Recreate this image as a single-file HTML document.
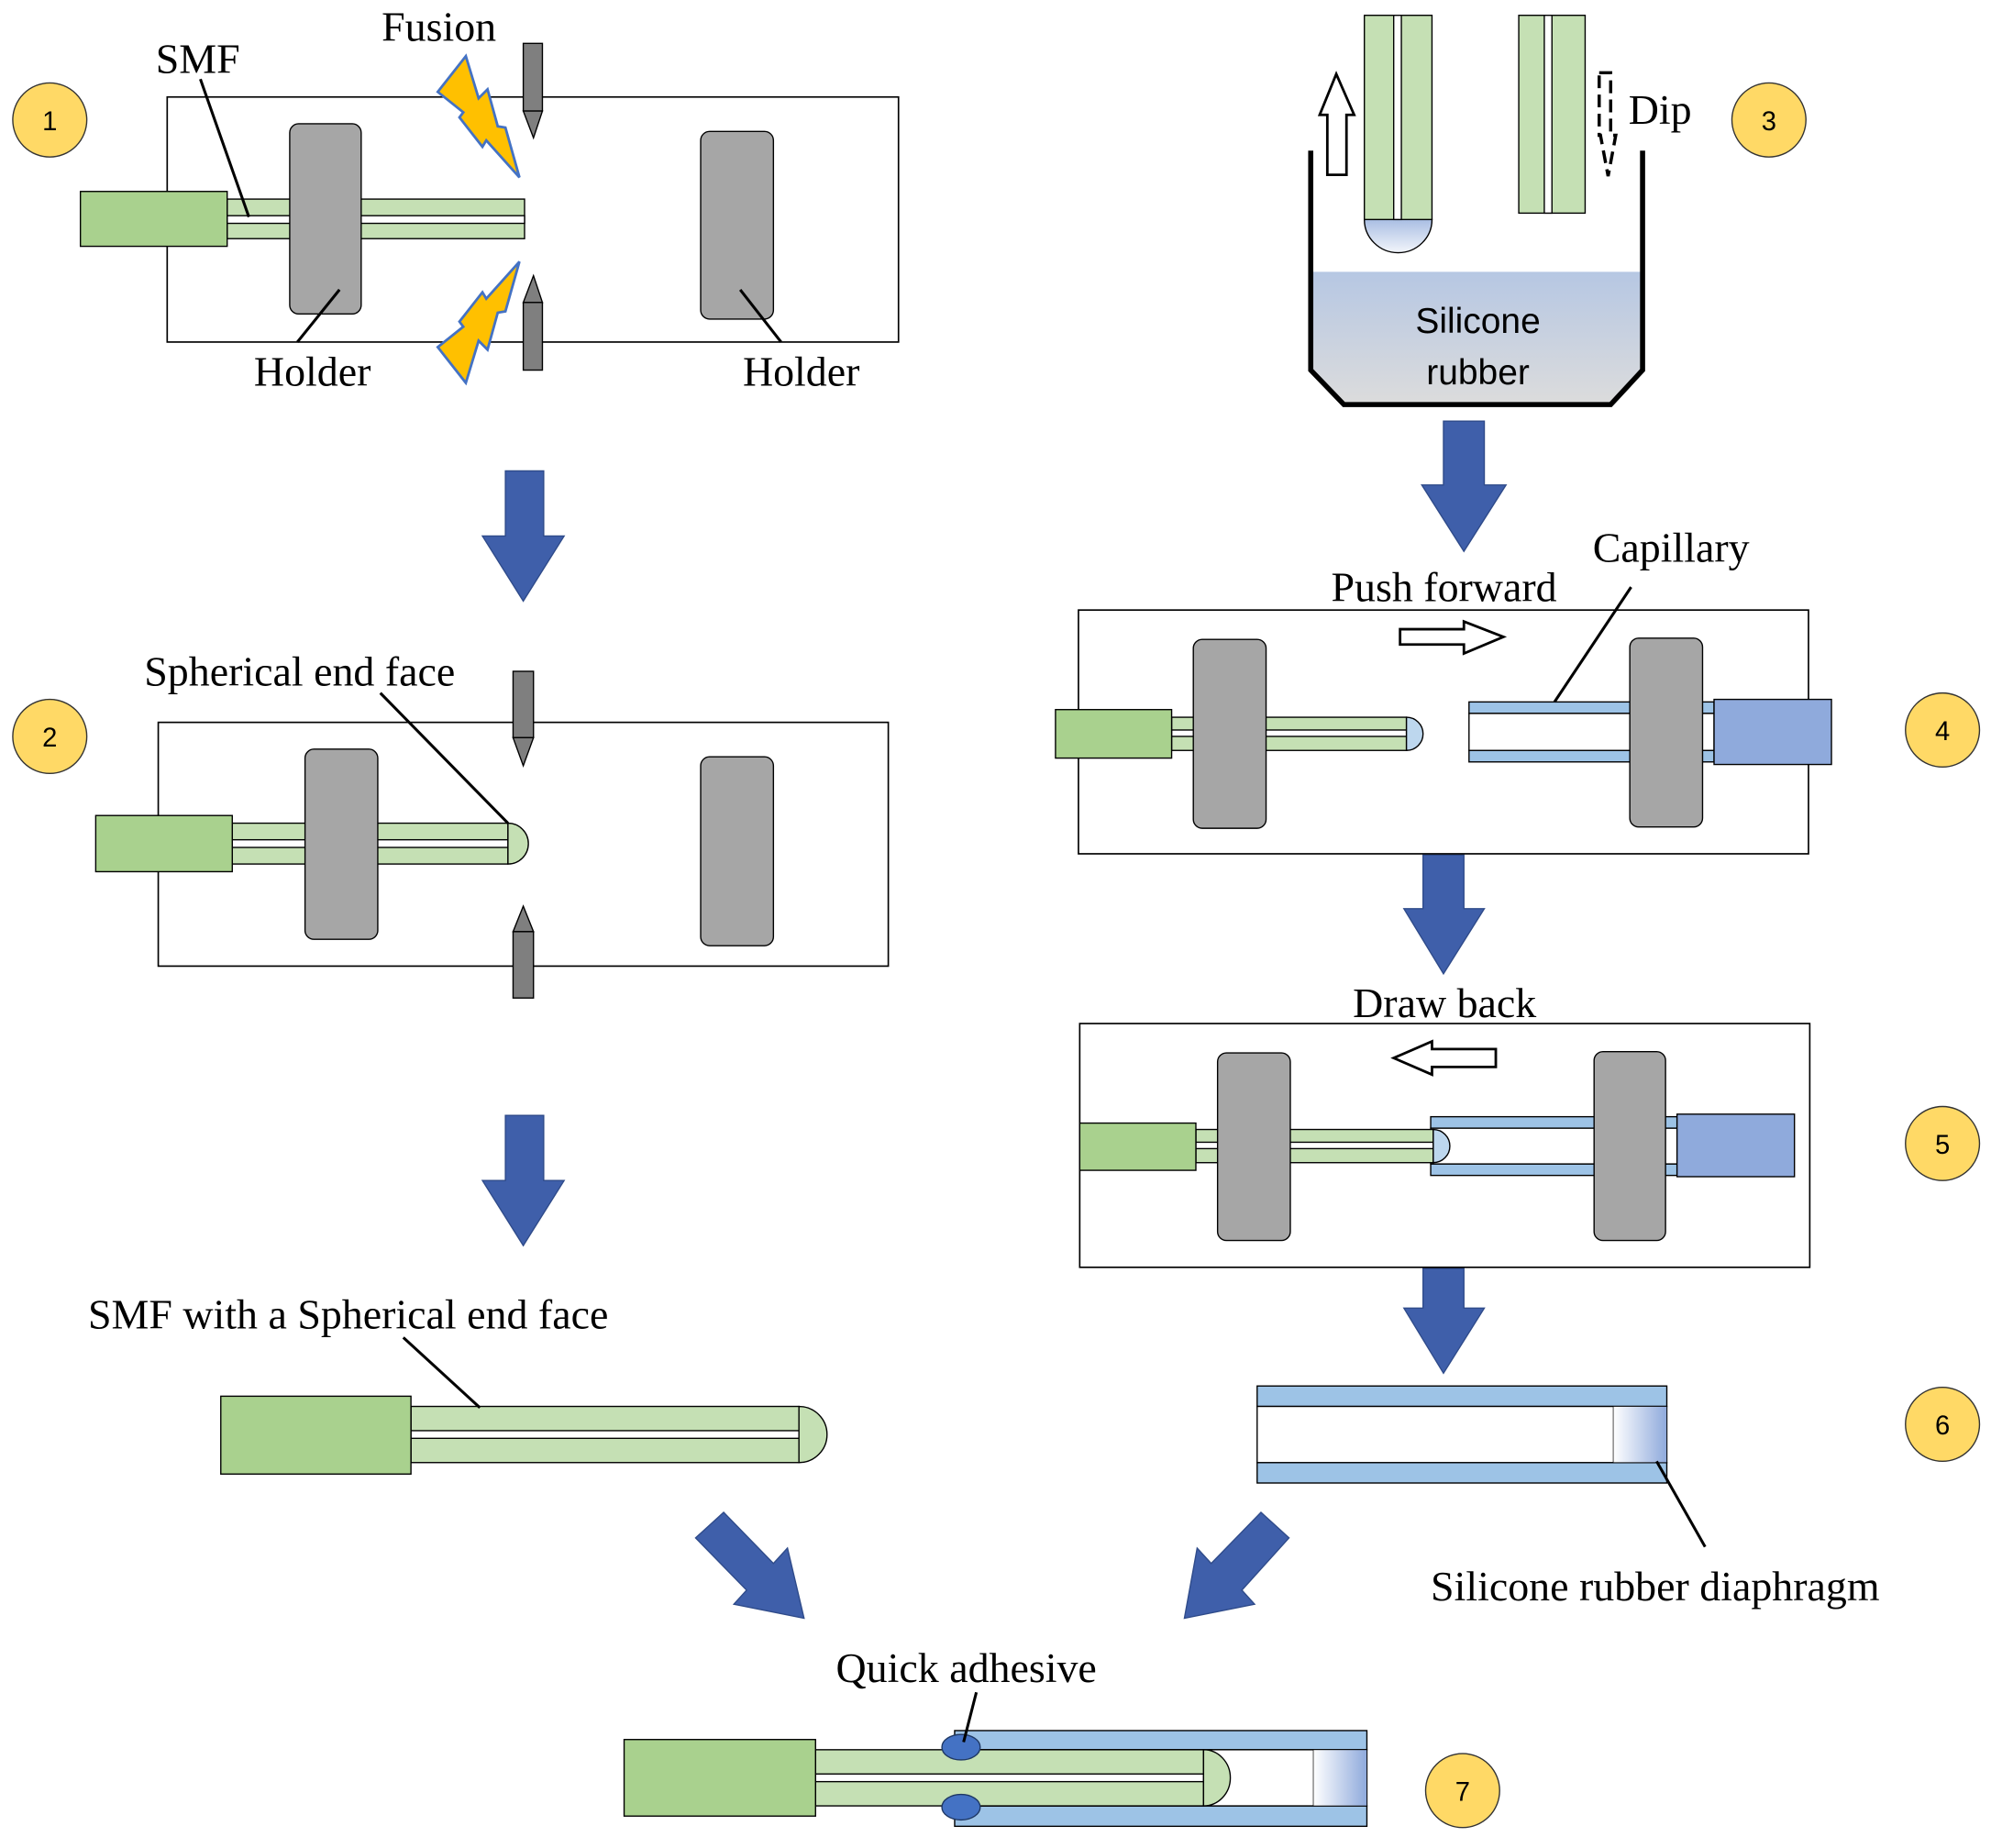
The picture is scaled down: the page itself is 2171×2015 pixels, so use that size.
<!DOCTYPE html>
<html><head><meta charset="utf-8"><style>html,body{margin:0;padding:0;background:#fff}svg{display:block}</style></head><body>
<svg width="2171" height="2015" viewBox="0 0 1560 1448" preserveAspectRatio="none" xmlns="http://www.w3.org/2000/svg">
<defs>
<linearGradient id="liq" x1="0" y1="0" x2="0" y2="1"><stop offset="0" stop-color="#B6C7E3"/><stop offset="1" stop-color="#DCDCDC"/></linearGradient>
<linearGradient id="drop" x1="0" y1="0" x2="0" y2="1"><stop offset="0" stop-color="#A9BEE3"/><stop offset="1" stop-color="#F2F5FB"/></linearGradient>
<linearGradient id="dia" x1="0" y1="0" x2="1" y2="0"><stop offset="0" stop-color="#FFFFFF"/><stop offset="1" stop-color="#8FAADC"/></linearGradient>
</defs>
<g font-family="Liberation Serif, serif" font-size="33" fill="#000">
<g stroke="#333" stroke-width="1" fill="#FFD966">
<ellipse cx="39" cy="94" rx="29" ry="29"/><ellipse cx="39" cy="577" rx="29" ry="29"/>
<ellipse cx="1386" cy="94" rx="29" ry="29"/><ellipse cx="1522" cy="572" rx="29" ry="29"/>
<ellipse cx="1522" cy="896" rx="29" ry="29"/><ellipse cx="1522" cy="1116" rx="29" ry="29"/>
<ellipse cx="1146" cy="1403" rx="29" ry="29"/></g>
<g font-family="Liberation Sans, sans-serif" font-size="21" text-anchor="middle">
<text x="39" y="102">1</text><text x="39" y="585">2</text><text x="1386" y="102">3</text><text x="1522" y="580">4</text><text x="1522" y="904">5</text><text x="1522" y="1124">6</text><text x="1146" y="1411">7</text></g>

<!-- Panel 1 -->
<rect x="131" y="76" width="573" height="192" fill="none" stroke="#000" stroke-width="1.2"/>
<rect x="178" y="156" width="233" height="31" fill="#C5E0B4" stroke="#000" stroke-width="1"/>
<rect x="178" y="169" width="233" height="6" fill="#fff" stroke="#000" stroke-width="1"/>
<rect x="63" y="150" width="115" height="43" fill="#A9D18E" stroke="#000" stroke-width="1"/>
<rect x="227" y="97" width="56" height="149" rx="7" fill="#A6A6A6" stroke="#000" stroke-width="1"/>
<rect x="549" y="103" width="57" height="147" rx="7" fill="#A6A6A6" stroke="#000" stroke-width="1"/>
<rect x="410" y="34" width="15" height="53" fill="#7F7F7F" stroke="#000" stroke-width="1"/>
<polygon points="410,87 425,87 418,108" fill="#7F7F7F" stroke="#000" stroke-width="1"/>
<polygon points="418,216 425,237 410,237" fill="#7F7F7F" stroke="#000" stroke-width="1"/>
<rect x="410" y="237" width="15" height="53" fill="#7F7F7F" stroke="#000" stroke-width="1"/>
<polygon points="365,44 343,72 363,88 360,92 378,115 381,110 407,139 396,100 390,99 382,70 375,77" fill="#FFC000" stroke="#4472C4" stroke-width="2"/>
<polygon points="365,300 343,272 363,256 360,252 378,229 381,234 407,205 396,244 390,245 382,274 375,267" fill="#FFC000" stroke="#4472C4" stroke-width="2"/>
<g stroke="#000" stroke-width="2.2"><line x1="157" y1="62" x2="195" y2="170"/><line x1="233" y1="268" x2="266" y2="227"/><line x1="612" y1="268" x2="580" y2="227"/></g>
<text x="299" y="32">Fusion</text><text x="122" y="57">SMF</text><text x="199" y="302">Holder</text><text x="582" y="302">Holder</text>

<!-- Panel 2 -->
<rect x="124" y="566" width="572" height="191" fill="none" stroke="#000" stroke-width="1.2"/>
<rect x="182" y="645" width="216" height="32" fill="#C5E0B4" stroke="#000" stroke-width="1"/>
<rect x="182" y="658" width="216" height="6" fill="#fff" stroke="#000" stroke-width="1"/>
<path d="M398,645 A16,16 0 0 1 398,677 Z" fill="#C5E0B4" stroke="#000" stroke-width="1"/>
<rect x="75" y="639" width="107" height="44" fill="#A9D18E" stroke="#000" stroke-width="1"/>
<rect x="239" y="587" width="57" height="149" rx="7" fill="#A6A6A6" stroke="#000" stroke-width="1"/>
<rect x="549" y="593" width="57" height="148" rx="7" fill="#A6A6A6" stroke="#000" stroke-width="1"/>
<rect x="402" y="526" width="16" height="52" fill="#7F7F7F" stroke="#000" stroke-width="1"/>
<polygon points="402,578 418,578 410,600" fill="#7F7F7F" stroke="#000" stroke-width="1"/>
<polygon points="410,710 418,730 402,730" fill="#7F7F7F" stroke="#000" stroke-width="1"/>
<rect x="402" y="730" width="16" height="52" fill="#7F7F7F" stroke="#000" stroke-width="1"/>
<line x1="298" y1="543" x2="398" y2="645" stroke="#000" stroke-width="2.2"/>
<text x="113" y="537">Spherical end face</text>

<g fill="#3F5FAA" stroke="#2F4B8A" stroke-width="1">
<polygon points="396,369 426,369 426,420 442,420 410,471 378,420 396,420"/>
<polygon points="396,874 426,874 426,925 442,925 410,976 378,925 396,925"/>
<polygon points="1131,330 1163,330 1163,380 1180,380 1147,432 1114,380 1131,380"/>
<polygon points="1115,670 1147,670 1147,712 1163,712 1131,763 1100,712 1115,712"/>
<polygon points="1115,994 1147,994 1147,1025 1163,1025 1131,1076 1100,1025 1115,1025"/>
<polygon points="545,1205 567,1185 606,1225 617,1213 630,1268 575,1257 585,1246"/>
<polygon points="1010,1205 988,1185 949,1225 938,1213 928,1268 983,1257 973,1246"/>
</g>

<!-- Panel 3 -->
<path d="M1027,213 L1287,213 L1287,290 L1262,317 L1053,317 L1027,290 Z" fill="url(#liq)"/>
<polyline points="1027,118 1027,290 1053,317 1262,317 1287,290 1287,118" fill="none" stroke="#000" stroke-width="4"/>
<g font-family="Liberation Sans, sans-serif" font-size="28" text-anchor="middle"><text x="1158" y="261">Silicone</text><text x="1158" y="301">rubber</text></g>
<path d="M1069,172 L1122,172 A26.5,26 0 0 1 1069,172 Z" fill="url(#drop)" stroke="#000" stroke-width="1"/>
<rect x="1069" y="12" width="53" height="160" fill="#C5E0B4" stroke="#000" stroke-width="1"/>
<rect x="1092" y="12" width="6" height="160" fill="#fff" stroke="#000" stroke-width="1"/>
<rect x="1190" y="12" width="52" height="155" fill="#C5E0B4" stroke="#000" stroke-width="1"/>
<rect x="1210" y="12" width="6" height="155" fill="#fff" stroke="#000" stroke-width="1"/>
<polygon points="1047,58 1061,90 1055,90 1055,137 1040,137 1040,90 1034,90" fill="#fff" stroke="#000" stroke-width="2"/>
<polygon points="1253,57 1262,57 1262,106 1266,106 1260,138 1254,106 1253,106" fill="none" stroke="#000" stroke-width="2.5" stroke-dasharray="10,5"/>
<text x="1276" y="97">Dip</text>

<!-- Panel 4 -->
<rect x="845" y="478" width="572" height="191" fill="none" stroke="#000" stroke-width="1.2"/>
<rect x="918" y="562" width="184" height="26" fill="#C5E0B4" stroke="#000" stroke-width="1"/>
<rect x="918" y="572" width="184" height="5" fill="#fff" stroke="#000" stroke-width="1"/>
<path d="M1102,562 A13,13 0 0 1 1102,588 Z" fill="#BDD7EE" stroke="#000" stroke-width="1"/>
<rect x="827" y="556" width="91" height="38" fill="#A9D18E" stroke="#000" stroke-width="1"/>
<rect x="935" y="501" width="57" height="148" rx="7" fill="#A6A6A6" stroke="#000" stroke-width="1"/>
<rect x="1151" y="550" width="192" height="9" fill="#9DC3E6" stroke="#000" stroke-width="1"/>
<rect x="1151" y="588" width="192" height="9" fill="#9DC3E6" stroke="#000" stroke-width="1"/>
<rect x="1151" y="559" width="192" height="29" fill="#fff" stroke="#000" stroke-width="1"/>
<rect x="1277" y="500" width="57" height="148" rx="7" fill="#A6A6A6" stroke="#000" stroke-width="1"/>
<rect x="1343" y="548" width="92" height="51" fill="#8FAADC" stroke="#000" stroke-width="1"/>
<polygon points="1097,493 1147,493 1147,487 1178,499 1147,512 1147,505 1097,505" fill="#fff" stroke="#000" stroke-width="2"/>
<line x1="1278" y1="460" x2="1218" y2="550" stroke="#000" stroke-width="2.2"/>
<text x="1043" y="471">Push forward</text><text x="1248" y="440">Capillary</text>

<!-- Panel 5 -->
<rect x="846" y="802" width="572" height="191" fill="none" stroke="#000" stroke-width="1.2"/>
<rect x="1121" y="875" width="193" height="9" fill="#9DC3E6" stroke="#000" stroke-width="1"/>
<rect x="1121" y="912" width="193" height="9" fill="#9DC3E6" stroke="#000" stroke-width="1"/>
<rect x="1121" y="884" width="193" height="28" fill="#fff" stroke="#000" stroke-width="1"/>
<rect x="937" y="885" width="186" height="26" fill="#C5E0B4" stroke="#000" stroke-width="1"/>
<rect x="937" y="895" width="186" height="5" fill="#fff" stroke="#000" stroke-width="1"/>
<path d="M1123,885 A13,13 0 0 1 1123,911 Z" fill="#BDD7EE" stroke="#000" stroke-width="1"/>
<rect x="846" y="880" width="91" height="37" fill="#A9D18E" stroke="#000" stroke-width="1"/>
<rect x="954" y="825" width="57" height="147" rx="7" fill="#A6A6A6" stroke="#000" stroke-width="1"/>
<rect x="1249" y="824" width="56" height="148" rx="7" fill="#A6A6A6" stroke="#000" stroke-width="1"/>
<rect x="1314" y="873" width="92" height="49" fill="#8FAADC" stroke="#000" stroke-width="1"/>
<polygon points="1172,822 1122,822 1122,816 1092,829 1122,842 1122,836 1172,836" fill="#fff" stroke="#000" stroke-width="2"/>
<text x="1060" y="797">Draw back</text>

<!-- Panel 6 -->
<rect x="985" y="1086" width="321" height="16" fill="#9DC3E6" stroke="#000" stroke-width="1"/>
<rect x="985" y="1146" width="321" height="16" fill="#9DC3E6" stroke="#000" stroke-width="1"/>
<rect x="985" y="1102" width="321" height="44" fill="#fff" stroke="#000" stroke-width="1"/>
<rect x="1264" y="1102" width="42" height="44" fill="url(#dia)" stroke="#000" stroke-width="0.5"/>
<line x1="1298" y1="1145" x2="1336" y2="1212" stroke="#000" stroke-width="2.2"/>
<text x="1121" y="1254">Silicone rubber diaphragm</text>

<!-- SMF w spherical -->
<rect x="322" y="1102" width="304" height="44" fill="#C5E0B4" stroke="#000" stroke-width="1"/>
<rect x="322" y="1121" width="304" height="6" fill="#fff" stroke="#000" stroke-width="1"/>
<path d="M626,1102 A22,22 0 0 1 626,1146 Z" fill="#C5E0B4" stroke="#000" stroke-width="1"/>
<rect x="173" y="1094" width="149" height="61" fill="#A9D18E" stroke="#000" stroke-width="1"/>
<line x1="316" y1="1048" x2="376" y2="1103" stroke="#000" stroke-width="2.2"/>
<text x="69" y="1041">SMF with a Spherical end face</text>

<!-- Panel 7 -->
<rect x="748" y="1356" width="323" height="15" fill="#9DC3E6" stroke="#000" stroke-width="1"/>
<rect x="748" y="1415" width="323" height="16" fill="#9DC3E6" stroke="#000" stroke-width="1"/>
<rect x="748" y="1371" width="323" height="44" fill="#fff" stroke="#000" stroke-width="1"/>
<rect x="1029" y="1371" width="42" height="44" fill="url(#dia)" stroke="#000" stroke-width="0.5"/>
<rect x="639" y="1371" width="304" height="44" fill="#C5E0B4" stroke="#000" stroke-width="1"/>
<rect x="639" y="1390" width="304" height="6" fill="#fff" stroke="#000" stroke-width="1"/>
<path d="M943,1371 A21,22 0 0 1 943,1415 Z" fill="#C5E0B4" stroke="#000" stroke-width="1"/>
<rect x="489" y="1363" width="150" height="60" fill="#A9D18E" stroke="#000" stroke-width="1"/>
<ellipse cx="753" cy="1369" rx="15" ry="10" fill="#4472C4" stroke="#1F3864" stroke-width="1"/>
<ellipse cx="753" cy="1416" rx="15" ry="10" fill="#4472C4" stroke="#1F3864" stroke-width="1"/>
<line x1="765" y1="1326" x2="755" y2="1365" stroke="#000" stroke-width="2.2"/>
<text x="655" y="1318">Quick adhesive</text>
</g>
</svg>
</body></html>
